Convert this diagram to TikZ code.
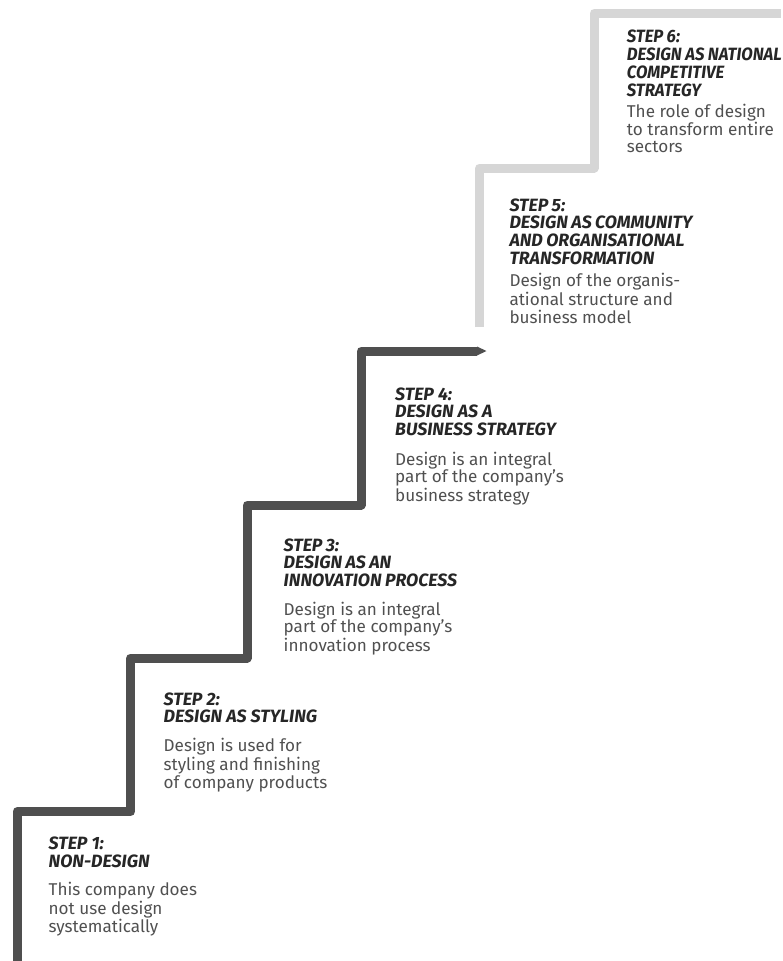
\documentclass[tikz,border=0pt]{standalone}
\usepackage{fontspec}
\setmainfont{Fira Sans}
\definecolor{stairdark}{HTML}{4F4F4F}
\definecolor{stairlight}{HTML}{D6D6D6}
\definecolor{headcol}{HTML}{262626}
\definecolor{bodycol}{HTML}{505050}
\newcommand{\tightsp}{\spaceskip=0.19em\relax}
\begin{document}
\begin{tikzpicture}[x=1pt,y=-1pt,
  heading/.style={anchor=base west, inner sep=0pt, text=headcol,
    font=\fontsize{17.8}{17.4}\selectfont\bfseries\itshape},
  bodytext/.style={anchor=base west, inner sep=0pt, text=bodycol,
    font=\fontsize{17.1}{17}\selectfont},
  darkstair/.style={draw=stairdark, line width=9pt, line join=round},
  lightstair/.style={draw=stairlight, line width=9pt, line join=round}]
\useasboundingbox (0,0) rectangle (783,961);
% dark staircase
\coordinate (d0) at (17,965);
\coordinate (d1) at (17,811.5);
\coordinate (d2) at (130.5,811.5);
\coordinate (d3) at (130.5,658);
\coordinate (d4) at (247,658);
\coordinate (d5) at (247,505);
\coordinate (d6) at (361,505);
\coordinate (d7) at (361,351);
\coordinate (d8) at (477,351);
\draw[darkstair] (d0) -- (d1) -- (d2) -- (d3) -- (d4) -- (d5) -- (d6) -- (d7) -- (d8);
\fill[stairdark] (477,346.5) -- (486.5,351) -- (477,355.5) -- cycle;
% light staircase
\coordinate (l0) at (479.5,327);
\coordinate (l1) at (479.5,168);
\coordinate (l2) at (594,168);
\coordinate (l3) at (594,13);
\coordinate (l4) at (781,13);
\draw[lightstair] (l0) -- (l1) -- (l2) -- (l3) -- (l4);
% texts
\node[heading] (h1) at (48.5,849.3) {\begin{tabular}[t]{@{}l@{}}STEP 1:\\NON-DESIGN\end{tabular}};
\node[bodytext] (b1) at (48.5,895.7) {\begin{tabular}[t]{@{}l@{}}This company does\\not use design\\systematically\end{tabular}};
\node[heading] (h2) at (163.5,705) {\begin{tabular}[t]{@{}l@{}}STEP 2:\\DESIGN AS STYLING\end{tabular}};
\node[bodytext] (b2) at (163.5,751.7) {\begin{tabular}[t]{@{}l@{}}Design is used for\\styling and finishing\\of company products\end{tabular}};
\node[heading] (h3) at (283.5,551) {\tightsp\begin{tabular}[t]{@{}l@{}}STEP 3:\\DESIGN AS AN\\INNOVATION PROCESS\end{tabular}};
\node[bodytext] (b3) at (283.5,615) {\begin{tabular}[t]{@{}l@{}}Design is an integral\\part of the company's\\innovation process\end{tabular}};
\node[heading] (h4) at (395,400) {\begin{tabular}[t]{@{}l@{}}STEP 4:\\DESIGN AS A\\BUSINESS STRATEGY\end{tabular}};
\node[bodytext] (b4) at (395,465) {\begin{tabular}[t]{@{}l@{}}Design is an integral\\part of the company's\\business strategy\end{tabular}};
\node[heading] (h5) at (509.3,211) {\tightsp\begin{tabular}[t]{@{}l@{}}STEP 5:\\DESIGN AS COMMUNITY\\AND ORGANISATIONAL\\TRANSFORMATION\end{tabular}};
\node[bodytext] (b5) at (509.3,286.7) {\begin{tabular}[t]{@{}l@{}}Design of the organis-\\ational structure and\\business model\end{tabular}};
\node[heading] (h6) at (626.7,42.7) {\addfontfeature{FakeStretch=0.94}\tightsp\begin{tabular}[t]{@{}l@{}}STEP 6:\\DESIGN AS NATIONAL\\COMPETITIVE\\STRATEGY\end{tabular}};
\node[bodytext] (b6) at (626.7,117.3) {\begin{tabular}[t]{@{}l@{}}The role of design\\to transform entire\\sectors\end{tabular}};
\end{tikzpicture}
\end{document}
